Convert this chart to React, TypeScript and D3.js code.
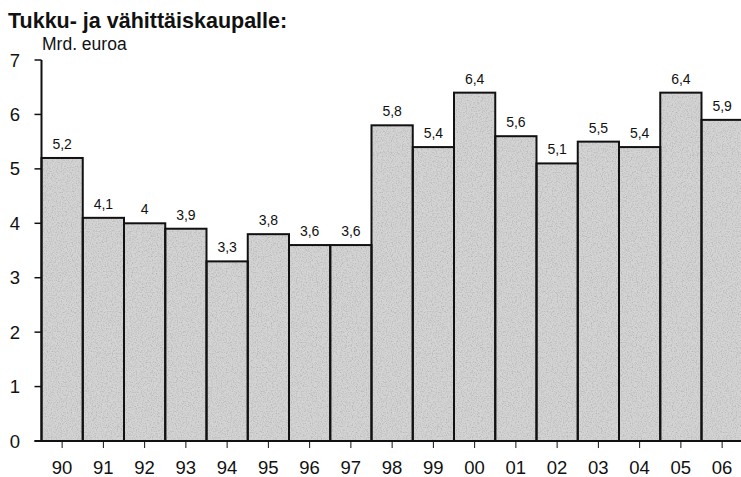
import React, { useRef, useEffect } from 'react';
import { select, scaleBand, scaleLinear } from 'd3';

const years = ['90', '91', '92', '93', '94', '95', '96', '97', '98', '99', '00', '01', '02', '03', '04', '05', '06'];
const values = [5.2, 4.1, 4, 3.9, 3.3, 3.8, 3.6, 3.6, 5.8, 5.4, 6.4, 5.6, 5.1, 5.5, 5.4, 6.4, 5.9];
const yTicks = [0, 1, 2, 3, 4, 5, 6, 7];
const title = 'Tukku- ja vähittäiskaupalle:';
const unit = 'Mrd. euroa';

const W = 741;
const H = 477;
const font = 'Liberation Sans, Arial, sans-serif';

function App() {
    const svgRef = useRef<SVGSVGElement>(null);

    useEffect(() => {
        const svg = select(svgRef.current);
        svg.selectAll('*').remove();

        const left = 41.5;
        const step = 41.25;
        const x = scaleBand<string>()
            .domain(years)
            .range([left, left + step * years.length])
            .padding(0);
        const y = scaleLinear().domain([0, 7]).range([441, 60]);

        // grainy print texture for the bars
        const defs = svg.append('defs');
        const filter = defs.append('filter').attr('id', 'grain')
            .attr('filterUnits', 'userSpaceOnUse')
            .attr('x', 0).attr('y', 0).attr('width', W).attr('height', H);
        filter.append('feTurbulence')
            .attr('type', 'fractalNoise')
            .attr('baseFrequency', 0.8)
            .attr('numOctaves', 2)
            .attr('seed', 3)
            .attr('result', 'noise');
        filter.append('feColorMatrix')
            .attr('in', 'noise')
            .attr('type', 'matrix')
            .attr('values', '0 0 0 0 0.45  0 0 0 0 0.45  0 0 0 0 0.45  2.2 0 0 0 -0.95')
            .attr('result', 'dots');
        filter.append('feComposite').attr('in', 'dots').attr('in2', 'SourceGraphic').attr('operator', 'in').attr('result', 'clipped');
        const merge = filter.append('feMerge');
        merge.append('feMergeNode').attr('in', 'SourceGraphic');
        merge.append('feMergeNode').attr('in', 'clipped');

        svg.append('text')
            .attr('x', 8)
            .attr('y', 28)
            .attr('font-family', font)
            .attr('font-weight', 'bold')
            .attr('font-size', 21.5)
            .attr('fill', '#111')
            .text(title);

        svg.append('text')
            .attr('x', 42)
            .attr('y', 50)
            .attr('font-family', font)
            .attr('font-size', 17.5)
            .attr('fill', '#111')
            .text(unit);

        const bars = svg.append('g');
        bars.selectAll('rect.fill')
            .data(values)
            .join('rect')
            .attr('class', 'fill')
            .attr('x', (d, i) => x(years[i])!)
            .attr('y', d => y(d))
            .attr('width', x.bandwidth())
            .attr('height', d => y(0) - y(d))
            .attr('fill', '#d4d4d4')
            .attr('filter', 'url(#grain)');

        bars.selectAll('rect.edge')
            .data(values)
            .join('rect')
            .attr('class', 'edge')
            .attr('x', (d, i) => x(years[i])!)
            .attr('y', d => y(d))
            .attr('width', x.bandwidth())
            .attr('height', d => y(0) - y(d))
            .attr('fill', 'none')
            .attr('stroke', '#111')
            .attr('stroke-width', 2);

        svg.append('g')
            .selectAll('text')
            .data(values)
            .join('text')
            .attr('x', (d, i) => x(years[i])! + x.bandwidth() / 2)
            .attr('y', d => y(d) - 9)
            .attr('text-anchor', 'middle')
            .attr('font-family', font)
            .attr('font-size', 14)
            .attr('fill', '#111')
            .text(d => String(d).replace('.', ','));

        // y axis
        const yAxis = svg.append('g');
        yAxis.append('line')
            .attr('x1', left).attr('x2', left)
            .attr('y1', y(7)).attr('y2', y(0))
            .attr('stroke', '#111').attr('stroke-width', 2);
        yAxis.selectAll('line.tick')
            .data(yTicks)
            .join('line')
            .attr('class', 'tick')
            .attr('x1', left - 7).attr('x2', left)
            .attr('y1', d => y(d)).attr('y2', d => y(d))
            .attr('stroke', '#111').attr('stroke-width', 1.5);
        yAxis.selectAll('text')
            .data(yTicks)
            .join('text')
            .attr('x', 20)
            .attr('y', d => y(d) + 6.5)
            .attr('text-anchor', 'end')
            .attr('font-family', font)
            .attr('font-size', 18.5)
            .attr('fill', '#111')
            .text(d => d);

        // x axis
        const xAxis = svg.append('g');
        xAxis.append('line')
            .attr('x1', left - 7).attr('x2', W)
            .attr('y1', y(0)).attr('y2', y(0))
            .attr('stroke', '#111').attr('stroke-width', 2);
        xAxis.selectAll('line.tick')
            .data(years)
            .join('line')
            .attr('class', 'tick')
            .attr('x1', d => x(d)! + x.bandwidth() / 2)
            .attr('x2', d => x(d)! + x.bandwidth() / 2)
            .attr('y1', y(0)).attr('y2', y(0) + 7)
            .attr('stroke', '#111').attr('stroke-width', 1);
        xAxis.selectAll('text')
            .data(years)
            .join('text')
            .attr('x', d => x(d)! + x.bandwidth() / 2)
            .attr('y', 474)
            .attr('text-anchor', 'middle')
            .attr('font-family', font)
            .attr('font-size', 18.5)
            .attr('fill', '#111')
            .text(d => d);
    }, []);

    return (
        <svg
            ref={svgRef}
            width={W}
            height={H}
            style={{ position: 'absolute', left: 0, top: 0, background: '#fff' }}
        ></svg>
    );
}

export default App;
